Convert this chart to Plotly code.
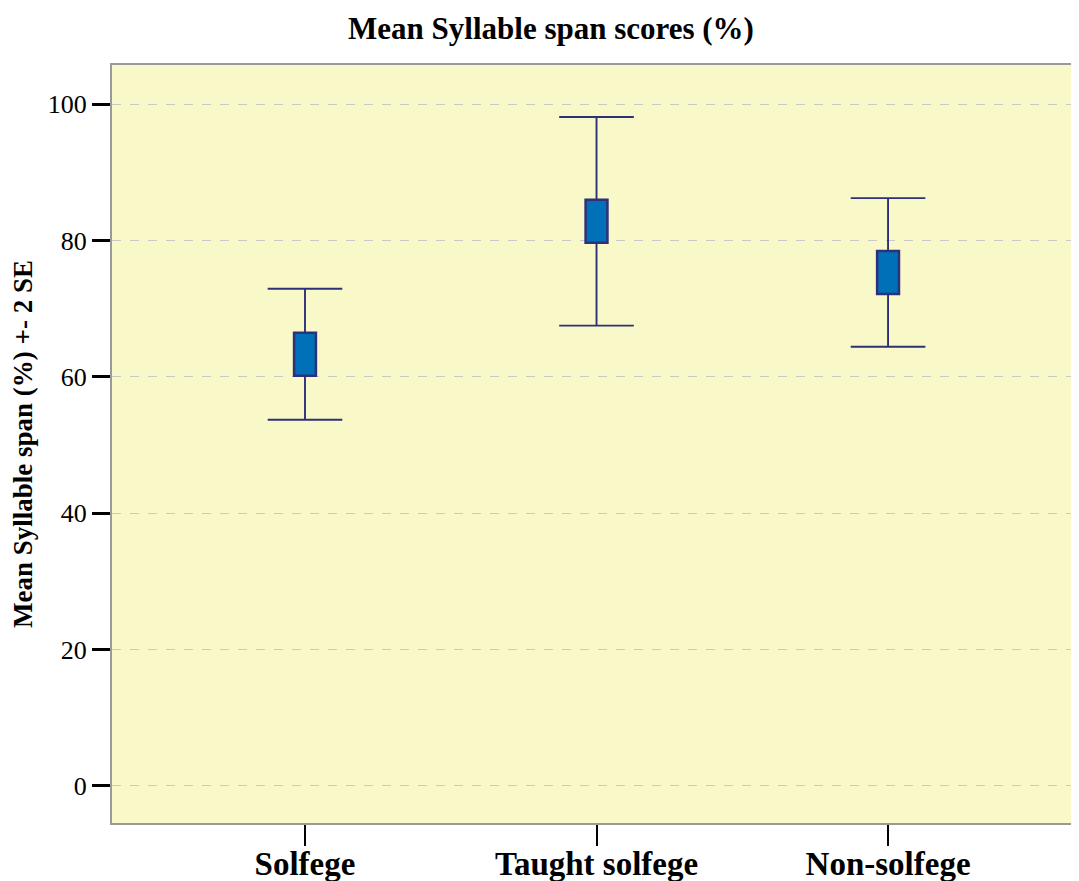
import plotly.graph_objects as go

# ---- data ----
categories = ["Solfege", "Taught solfege", "Non-solfege"]
means = [63.3, 82.8, 75.3]
two_se = [9.6, 15.3, 10.9]
y_tick_vals = [0, 20, 40, 60, 80, 100]

# ---- styles ----
BOX_HALF = 3.15      # half-height of mean box (data units)
BOX_WIDTH = 0.075    # box width (category units)
CAP_HALF = 0.128     # half-width of whisker caps (category units)
NAVY = "#2e3078"
FILL = "#0070b8"
FONT = "Liberation Serif"

xs = list(range(len(categories)))

# whisker segments (avoid passing through the box)
wx, wy = [], []
for i, m, e in zip(xs, means, two_se):
    wx += [i, i, None, i, i, None]
    wy += [m + BOX_HALF, m + e, None, m - e, m - BOX_HALF, None]
# caps
cx, cy = [], []
for i, m, e in zip(xs, means, two_se):
    cx += [i - CAP_HALF, i + CAP_HALF, None, i - CAP_HALF, i + CAP_HALF, None]
    cy += [m + e, m + e, None, m - e, m - e, None]

fig = go.Figure()
fig.add_trace(go.Bar(
    x=xs, y=[2 * BOX_HALF] * len(xs), base=[m - BOX_HALF for m in means],
    width=BOX_WIDTH, marker=dict(color=FILL, line=dict(color=NAVY, width=2.5)),
    hoverinfo="skip", showlegend=False))
fig.add_trace(go.Scatter(x=wx, y=wy, mode="lines",
                         line=dict(color=NAVY, width=1.9), showlegend=False))
fig.add_trace(go.Scatter(x=cx, y=cy, mode="lines",
                         line=dict(color=NAVY, width=1.9), showlegend=False))

fig.update_layout(
    width=1071, height=873,
    margin=dict(l=104, r=0, t=57, b=58, autoexpand=False),
    paper_bgcolor="white", plot_bgcolor="#f9f8c8",
    title=dict(text="<b>Mean Syllable span scores (%)</b>", x=0.507, xanchor="center",
               y=0.977, yanchor="middle",
               font=dict(family=FONT, size=31, color="black")),
    font=dict(family=FONT, color="black"),
    showlegend=False,
)
fig.update_xaxes(
    range=[-0.662, 2.655], tickvals=xs,
    ticktext=[f"<b>{c}</b>" for c in categories],
    tickfont=dict(family=FONT, size=33, color="black"),
    ticks="outside", ticklen=21, tickwidth=1.5, tickcolor="black",
    ticklabelstandoff=-11, automargin=False,
    showgrid=False, zeroline=False,
    showline=True, linecolor="#9a9a9a", linewidth=2, mirror=True,
)
fig.update_yaxes(
    range=[-5.43, 105.72], tickvals=y_tick_vals,
    tickfont=dict(family=FONT, size=26, color="black"),
    ticks="outside", ticklen=18, tickwidth=2.5, tickcolor="black",
    ticklabelstandoff=0, automargin=False,
    showgrid=True, gridcolor="#c9c9c9", griddash="dash", gridwidth=1,
    zeroline=False,
    showline=True, linecolor="#9a9a9a", linewidth=2,
    title=dict(text="<b>Mean Syllable span (%) +- 2 SE</b>",
               font=dict(family=FONT, size=27, color="black"), standoff=10),
)

fig.write_html("out.html")
